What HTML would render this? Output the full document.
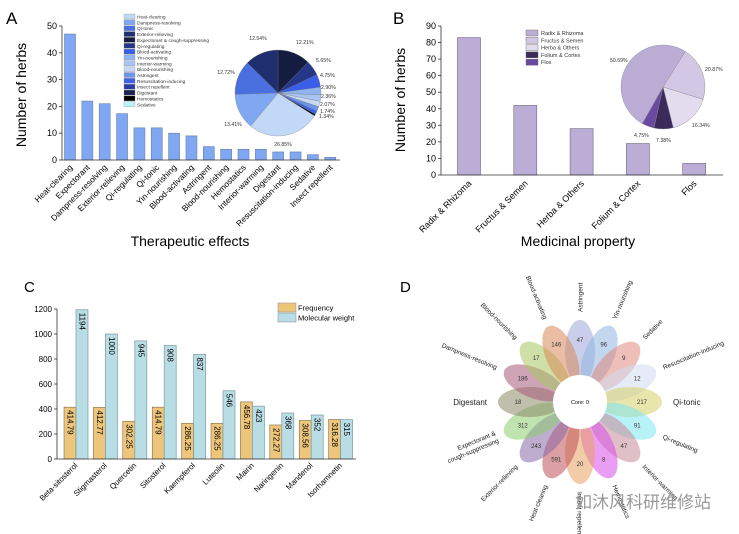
<!DOCTYPE html>
<html><head><meta charset="utf-8">
<style>
html,body{margin:0;padding:0;background:#fff;}
svg{display:block;font-family:"Liberation Sans",Arial,sans-serif;}
</style></head>
<body>
<svg id="fig" width="739" height="534" viewBox="0 0 739 534" xmlns="http://www.w3.org/2000/svg">
<rect width="739" height="534" fill="#fff"/>
<g id="gA"></g>
<g id="gB"></g>
<g id="gC"></g>
<g id="gD"></g>
<text x="575" y="508" font-size="17" fill="#999" font-family="'Liberation Sans','Noto Sans CJK SC',sans-serif">如沐风科研维修站</text>
</svg>
<script>
// ---- Panel A data ----
const aCats = ["Heat-clearing","Expectorant","Dampness-resolving","Exterior-relieving","Qi-regulating","Qi-tonic","Yin-nourishing","Blood-activating","Astringent","Blood-nourishing","Hemostatics","Interior-warming","Digestant","Resuscitation-inducing","Sedative","Insect repellent"];
const aVals = [47,22,21,17.3,12,12,10,9,5,4,4,4,3,3,2,1];
const aTicks = [0,10,20,30,40,50];
const aLegend = ["Heat-clearing","Dampness-resolving","Qi-tonic","Exterior-relieving","Expectorant & cough-suppressing","Qi-regulating","Blood-activating","Yin-nourishing","Interior-warming","Blood-nourishing","Astringent","Resuscitation-inducing","Insect repellent","Digestant","Hemostatics","Sedative"];
const aPieVals = [12.21,5.65,4.75,2.90,2.36,2.07,1.74,1.34,0.6,26.85,13.41,12.72,12.54];
const aPieLabels = ["12.21%","5.65%","4.75%","2.90%","2.36%","2.07%","1.74%","1.34%","","26.85%","13.41%","12.72%","12.54%"];
// ---- Panel B data ----
const bCats = ["Radix & Rhizoma","Fructus & Semen","Herba & Others","Folium & Cortex","Flos"];
const bVals = [83,42,28,19,7];
const bTicks = [0,10,20,30,40,50,60,70,80,90];
const bPieVals = [20.87,16.34,7.38,4.75,50.69];
const bPieLabels = ["20.87%","16.34%","7.38%","4.75%","50.69%"];
// ---- Panel C data ----
const cCats = ["Beta-sitosterol","Stigmasterol","Quercetin","Sitosterol","Kaempferol","Luteolin","Mairin","Naringenin","Mandenol","Isorhamnetin"];
const cFreq = [414.79,412.77,302.25,414.79,286.25,286.25,456.78,272.27,308.56,316.28];
const cMW = [1194,1000,945,908,837,546,423,368,352,315];
const cTicks = [0,200,400,600,800,1000,1200];
// ---- Panel D data ----
const dCats = ["Astringent","Yin-nourishing","Sedative","Resuscitation-inducing","Qi-tonic","Qi-regulating","Interior-warming","Hemostatics","Insect repellent","Heat-clearing","Exterior-relieving","Expectorant & cough-suppressing","Digestant","Dampness-resolving","Blood-nourishing","Blood-activating"];
const dVals = [47,96,9,12,217,91,47,8,20,591,243,312,18,186,17,146];

const NS="http://www.w3.org/2000/svg";
function mk(parent,tag,attrs,text){const e=document.createElementNS(NS,tag);for(const k in attrs)e.setAttribute(k,attrs[k]);if(text!==undefined)e.textContent=text;parent.appendChild(e);return e;}
function arc(cx,cy,r,a0,a1){const p=a=>[cx+r*Math.sin(a),cy-r*Math.cos(a)];const s=p(a0),e=p(a1);const lg=(a1-a0)>Math.PI?1:0;return `M${cx},${cy}L${s[0]},${s[1]}A${r},${r} 0 ${lg} 1 ${e[0]},${e[1]}Z`;}

// ================= Panel A =================
(function(){
const g=document.getElementById('gA');
const x0=62,x1=340,yb=160,yt=26,max=50;
const y=v=>yb-(v/max)*(yb-yt);
const xc=i=>70+i*17.35;
let t=mk(g,'text',{x:6,y:24,'font-size':17},'A');

aVals.forEach((v,i)=>{
 const r=mk(g,'rect',{x:xc(i)-5.5,y:y(v),width:11,height:yb-y(v),fill:'#80a8f2',stroke:'#6a7fa8','stroke-width':0.6});
 
 
 const l=mk(g,'text',{x:xc(i)+3,y:168,'font-size':8.3,'text-anchor':'end',transform:`rotate(-45 ${xc(i)+3} 168)`},aCats[i]);
 
});
mk(g,'line',{x1:x0,y1:yt,x2:x0,y2:yb,stroke:'#333','stroke-width':0.8});
mk(g,'line',{x1:x0,y1:yb,x2:x1,y2:yb,stroke:'#333','stroke-width':0.8});
aTicks.forEach(v=>{mk(g,'line',{x1:x0-3,y1:y(v),x2:x0,y2:y(v),stroke:'#333','stroke-width':0.8});
 const l=mk(g,'text',{x:x0-5,y:y(v)+3,'font-size':9,'text-anchor':'end'},v);
 });
t=mk(g,'text',{x:26,y:95,'font-size':14,'text-anchor':'middle',transform:'rotate(-90 26 95)'},'Number of herbs');

t=mk(g,'text',{x:190,y:246,'font-size':14,'text-anchor':'middle'},'Therapeutic effects');

const legCols=['#c2d8f7','#80a8f2','#4a70e0','#1e2e6e','#141c40','#26378a','#3a5ee8','#90b4f0','#a8c4f2','#c8d8f4','#6e94e8','#3c62e6','#2a3ca0','#1a2250','#000','#b8f4f8'];
aLegend.forEach((n,i)=>{const yy=14+i*5.85;
 const r=mk(g,'rect',{x:124,y:yy,width:11,height:5,fill:legCols[i],stroke:'#888','stroke-width':0.3});
 
 const l=mk(g,'text',{x:137,y:yy+4.5,'font-size':4.8,fill:'#333'},n);
 });
const pieCols=['#141c40','#26378a','#3a5ee8','#90b4f0','#a8c4f2','#c8d8f4','#6e94e8','#3c62e6','#000','#c2d8f7','#80a8f2','#4a70e0','#1e2e6e'];
const tot=aPieVals.reduce((a,b)=>a+b,0);let a=0;const cx=278,cy=93,R=43;
aPieVals.forEach((v,i)=>{const a1=a+v/tot*2*Math.PI;
 const p=mk(g,'path',{d:arc(cx,cy,R,a,a1),fill:pieCols[i],stroke:'#777','stroke-width':0.3});
 
 a=a1;});
const labPos=[[296,44],[316,62],[320,77],[321,89],[321,98],[320,106],[320,113],[319,118],[0,0],[283,146],[233,126],[226,74],[258,40]];
aPieLabels.forEach((s,i)=>{if(!s)return;const l=mk(g,'text',{x:labPos[i][0],y:labPos[i][1],'font-size':5.2,fill:'#333','text-anchor':i>=9?'middle':'start'},s);
 });
})();

// ================= Panel B =================
(function(){
const g=document.getElementById('gB');
const x0=441,x1=723,yb=175,yt=26,max=90;
const y=v=>yb-(v/max)*(yb-yt);
const xc=i=>469+i*56.3;
let t=mk(g,'text',{x:393,y:24,'font-size':17},'B');

bVals.forEach((v,i)=>{
 const r=mk(g,'rect',{x:xc(i)-11.5,y:y(v),width:23,height:yb-y(v),fill:'#bcadd7',stroke:'#6e6380','stroke-width':0.6});
 
 
 const l=mk(g,'text',{x:xc(i)+3,y:184,'font-size':9,'text-anchor':'end',transform:`rotate(-45 ${xc(i)+3} 184)`},bCats[i]);
 
});
mk(g,'line',{x1:x0,y1:yt,x2:x0,y2:yb,stroke:'#333','stroke-width':0.8});
mk(g,'line',{x1:x0,y1:yb,x2:x1,y2:yb,stroke:'#333','stroke-width':0.8});
bTicks.forEach(v=>{mk(g,'line',{x1:x0-3,y1:y(v),x2:x0,y2:y(v),stroke:'#333','stroke-width':0.8});
 const l=mk(g,'text',{x:x0-5,y:y(v)+3,'font-size':9,'text-anchor':'end'},v);
 });
t=mk(g,'text',{x:405,y:100,'font-size':14,'text-anchor':'middle',transform:'rotate(-90 405 100)'},'Number of herbs');

t=mk(g,'text',{x:578,y:246,'font-size':14,'text-anchor':'middle'},'Medicinal property');

const legCols=['#bcadd7','#d2c7e5','#e3dcef','#3b2a5a','#6a4aa0'];
const legN=["Radix & Rhizoma","Fructus & Semen","Herba & Others","Folium & Cortex","Flos"];
legN.forEach((n,i)=>{const yy=30+i*7.3;
 const r=mk(g,'rect',{x:526,y:yy,width:12,height:6,fill:legCols[i],stroke:'#666','stroke-width':0.4});
 
 const l=mk(g,'text',{x:541,y:yy+5,'font-size':5.5,fill:'#333'},n);
 });
const pieCols=['#d2c7e5','#e3dcef','#3b2a5a','#6a4aa0','#bcadd7'];
const tot=bPieVals.reduce((a,b)=>a+b,0);let a=32*Math.PI/180;const cx=663,cy=87,R=42;
bPieVals.forEach((v,i)=>{const a1=a+v/tot*2*Math.PI;
 const p=mk(g,'path',{d:arc(cx,cy,R,a,a1),fill:pieCols[i],stroke:'#888','stroke-width':0.4});
 
 a=a1;});
const labPos=[[705,71],[692,127],[656,142],[634,137],[610,62]];
bPieLabels.forEach((s,i)=>{const l=mk(g,'text',{x:labPos[i][0],y:labPos[i][1],'font-size':5.2,fill:'#333'},s);
 });
})();

// ================= Panel C =================
(function(){
const g=document.getElementById('gC');
const x0=57,x1=356,yb=459,yt=309,max=1200;
const y=v=>yb-(v/max)*(yb-yt);
const gx=i=>64+i*29.4;
let t=mk(g,'text',{x:24,y:292,'font-size':15},'C');

cCats.forEach((c,i)=>{
 const r1=mk(g,'rect',{x:gx(i),y:y(cFreq[i]),width:12,height:yb-y(cFreq[i]),fill:'#edc57b',stroke:'#6a5a3a','stroke-width':0.5});
 
 const r2=mk(g,'rect',{x:gx(i)+12,y:y(cMW[i]),width:12,height:yb-y(cMW[i]),fill:'#b9dde4',stroke:'#7a9aa0','stroke-width':0.7});
 
 const fy=y(cFreq[i])+3,mx=gx(i)+18,fx=gx(i)+6,my=y(cMW[i])+3;
 let l=mk(g,'text',{x:fx,y:fy,'font-size':8,'text-anchor':'start','dominant-baseline':'central',transform:`rotate(90 ${fx} ${fy})`},cFreq[i]);
 
 l=mk(g,'text',{x:mx,y:my,'font-size':8,'text-anchor':'start','dominant-baseline':'central',transform:`rotate(90 ${mx} ${my})`},cMW[i]);
 
 const lx=gx(i)+14,ly=466;
 l=mk(g,'text',{x:lx,y:ly,'font-size':7.8,'text-anchor':'end',transform:`rotate(-45 ${lx} ${ly})`},c);
 
});
mk(g,'line',{x1:x0,y1:yt,x2:x0,y2:yb,stroke:'#333','stroke-width':0.8});
mk(g,'line',{x1:x0,y1:yb,x2:x1,y2:yb,stroke:'#333','stroke-width':0.8});
cTicks.forEach(v=>{mk(g,'line',{x1:x0-3,y1:y(v),x2:x0,y2:y(v),stroke:'#333','stroke-width':0.8});
 const l=mk(g,'text',{x:x0-5,y:y(v)+3,'font-size':8,'text-anchor':'end'},v);
 });
[["Frequency",'#edc57b',303],["Molecular weight",'#b9dde4',313]].forEach(d=>{
 const r=mk(g,'rect',{x:278,y:d[2],width:18,height:9,fill:d[1],stroke:'#888','stroke-width':0.5});
 
 const l=mk(g,'text',{x:298,y:d[2]+7.5,'font-size':7.5},d[0]);
 });
})();

// ================= Panel D =================
(function(){
const g=document.getElementById('gD');
const cx=580,cy=402;
let t=mk(g,'text',{x:400,y:292,'font-size':15},'D');

const cols=['#9da6d8','#8fb4e0','#e08880','#cfdcf0','#d6cf6a','#7ae8f0','#c98a98','#d84ee8','#e8a060','#c05058','#8a6aa8','#8ccc70','#8a8a68','#a85a78','#a8c460','#d8885a'];
const n=dVals.length;
dVals.forEach((v,i)=>{
 const ang=90-i*360/n;
 const rad=ang*Math.PI/180;
 const ex=cx+50*Math.cos(rad),ey=cy-50*Math.sin(rad);
 const e=mk(g,'ellipse',{cx:ex,cy:ey,rx:32,ry:15,fill:cols[i],'fill-opacity':0.55,transform:`rotate(${-ang} ${ex} ${ey})`});
 
 
});
dVals.forEach((v,i)=>{
 const ang=90-i*360/n;
 const rad=ang*Math.PI/180;
 const l=mk(g,'text',{x:cx+62*Math.cos(rad),y:cy-62*Math.sin(rad)+2,'font-size':6,'text-anchor':'middle',fill:'#333'},v);
 
 const big=(dCats[i]==='Qi-tonic'||dCats[i]==='Digestant');
 const R=big?93:90;
 const lx=cx+R*Math.cos(rad),ly=cy-R*Math.sin(rad);
 const right=(ang>-90.5&&ang<89.5)||Math.abs(ang-90)<0.5;
 let rot,anchor;
 if(Math.abs(ang)<0.5){rot=0;anchor='start';}
 else if(Math.abs(ang+180)<0.5){rot=0;anchor='end';}
 else if(right||Math.abs(ang+90)<0.5){rot=-ang;anchor='start';}
 else {rot=-ang+180;anchor='end';}
 const fs=big?8:6.5;
 const lab=mk(g,'text',{x:lx,y:ly+fs*0.35,'font-size':fs,'text-anchor':anchor,fill:'#222',transform:`rotate(${rot} ${lx} ${ly})`});
 
 if(dCats[i].indexOf('Expectorant')===0){
  const s1=mk(lab,'tspan',{x:lx,dy:-4},'Expectorant &');
  const s2=mk(lab,'tspan',{x:lx,dy:8},'cough-suppressing');
 } else lab.textContent=dCats[i];
});
const c=mk(g,'circle',{cx:cx,cy:cy,r:27,fill:'#fff'});

t=mk(g,'text',{x:cx,y:cy+2,'font-size':5.5,'text-anchor':'middle'},'Core: 0');

})();
</script>
</body></html>
